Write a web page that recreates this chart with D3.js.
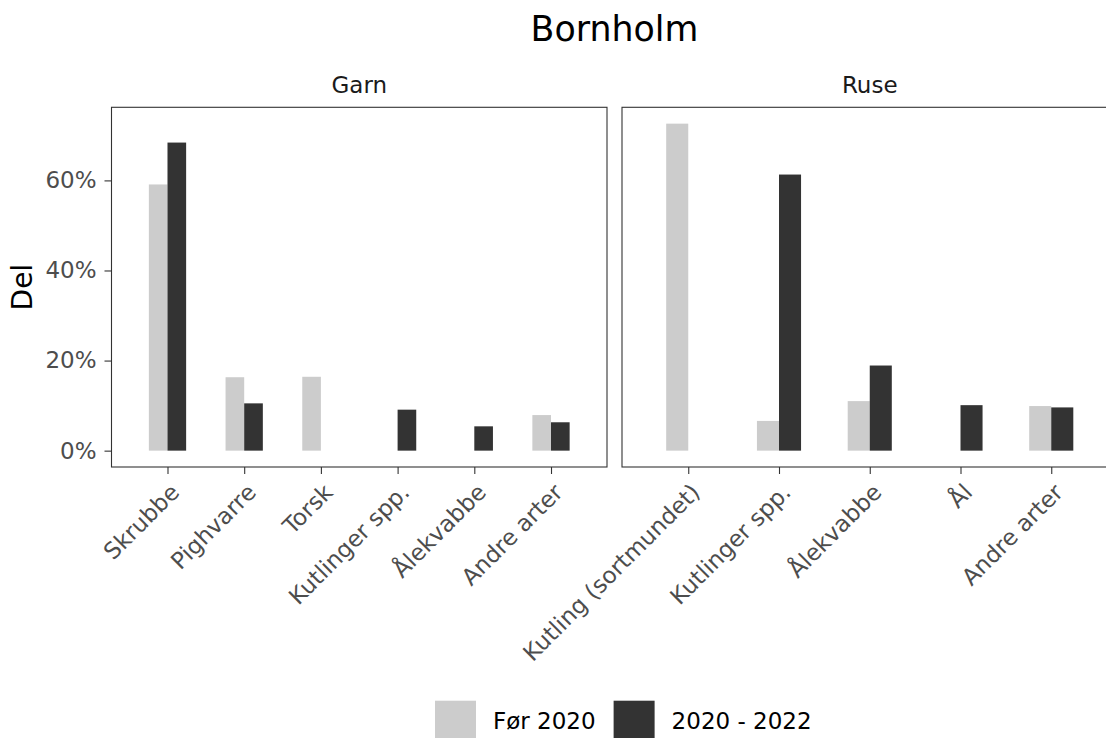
<!DOCTYPE html>
<html>
<head>
<meta charset="utf-8">
<script src="https://cdn.jsdelivr.net/npm/d3@7"></script>
<style>
  html, body { margin: 0; padding: 0; background: #fff; }
  svg { display: block; font-family: "DejaVu Sans", sans-serif; }
</style>
</head>
<body>
<svg id="chart" width="1106" height="738"></svg>
<script>
// ---------------- data ----------------
const chartTitle = "Bornholm";
const yAxisTitle = "Del";
const seriesLabels = ["Før 2020", "2020 - 2022"];
const seriesColors = ["#CCCCCC", "#333333"];
const panelNames = ["Garn", "Ruse"];

const garnCategories = ["Skrubbe", "Pighvarre", "Torsk", "Kutlinger spp.", "Ålekvabbe", "Andre arter"];
const garnFoer2020 = [59.1, 16.3, 16.4, null, null, 7.9];
const garn2020_2022 = [68.4, 10.5, null, 9.1, 5.4, 6.3];

const ruseCategories = ["Kutling (sortmundet)", "Kutlinger spp.", "Ålekvabbe", "Ål", "Andre arter"];
const ruseFoer2020 = [72.6, 6.6, 11.0, null, 9.9];
const ruse2020_2022 = [null, 61.3, 18.9, 10.1, 9.6];

const yTickValues = [0, 20, 40, 60];
const yTickLabels = ["0%", "20%", "40%", "60%"];

// ---------------- layout ----------------
const W = 1106, H = 738;
const panelTop = 107.3, panelBottom = 467;
const panelWidth = 495.5;
const panelLefts = [111.5, 622];
const textGrey = "#4D4D4D";
const dark = "#1A1A1A";
const borderCol = "#333333";
const axisFont = 23;

const svg = d3.select("#chart");

const panels = [
  { name: panelNames[0], cats: garnCategories, s1: garnFoer2020, s2: garn2020_2022 },
  { name: panelNames[1], cats: ruseCategories, s1: ruseFoer2020, s2: ruse2020_2022 }
];

const allVals = panels.flatMap(p => p.s1.concat(p.s2)).filter(v => v != null);
const maxVal = d3.max(allVals);
const expand = 0.05 * maxVal;
const y = d3.scaleLinear()
  .domain([-expand, maxVal + expand])
  .range([panelBottom, panelTop]);

// title
svg.append("text")
  .attr("x", (panelLefts[0] + panelLefts[1] + panelWidth) / 2)
  .attr("y", 41)
  .attr("text-anchor", "middle")
  .attr("font-size", 34.8)
  .attr("fill", "#000")
  .text(chartTitle);

// y axis title
svg.append("text")
  .attr("transform", `translate(32,${(panelTop + panelBottom) / 2}) rotate(-90)`)
  .attr("text-anchor", "middle")
  .attr("font-size", 28)
  .attr("fill", "#000")
  .text(yAxisTitle);

panels.forEach((p, i) => {
  const left = panelLefts[i];
  const x = d3.scalePoint()
    .domain(p.cats)
    .range([left, left + panelWidth])
    .padding(0.73);
  const step = x.step();
  const bw = step * 0.243;

  const g = svg.append("g");

  // strip label
  g.append("text")
    .attr("x", left + panelWidth / 2)
    .attr("y", 93)
    .attr("text-anchor", "middle")
    .attr("font-size", axisFont)
    .attr("fill", dark)
    .text(p.name);

  // bars
  const data = [];
  p.cats.forEach((c, k) => {
    if (p.s1[k] != null) data.push({ c, v: p.s1[k], s: 0 });
    if (p.s2[k] != null) data.push({ c, v: p.s2[k], s: 1 });
  });
  g.selectAll("rect.bar").data(data).enter().append("rect")
    .attr("class", "bar")
    .attr("x", d => d.s === 0 ? x(d.c) - bw : x(d.c))
    .attr("width", bw)
    .attr("y", d => y(d.v))
    .attr("height", d => y(0) - y(d.v))
    .attr("fill", d => seriesColors[d.s]);

  // panel border
  g.append("rect")
    .attr("x", left)
    .attr("y", panelTop)
    .attr("width", panelWidth)
    .attr("height", panelBottom - panelTop)
    .attr("fill", "none")
    .attr("stroke", borderCol)
    .attr("stroke-width", 1.1);

  // x axis
  const xAxis = d3.axisBottom(x).tickSize(7).tickSizeOuter(0).tickPadding(0);
  const xg = g.append("g")
    .attr("transform", `translate(0,${panelBottom})`)
    .call(xAxis);
  xg.select(".domain").remove();
  xg.selectAll(".tick line").attr("stroke", borderCol).attr("stroke-width", 1.1);
  xg.selectAll(".tick text")
    .attr("font-size", axisFont)
    .attr("font-family", "DejaVu Sans, sans-serif")
    .attr("fill", textGrey)
    .attr("text-anchor", "end")
    .attr("y", 0)
    .attr("dy", "0.72em")
    .attr("transform", "translate(1,15) rotate(-45)");

  // y axis (only first panel)
  if (i === 0) {
    const yAxis = d3.axisLeft(y)
      .tickValues(yTickValues)
      .tickFormat((d, k) => yTickLabels[k])
      .tickSize(7).tickPadding(8);
    const yg = g.append("g")
      .attr("transform", `translate(${left},0)`)
      .call(yAxis);
    yg.select(".domain").remove();
    yg.selectAll(".tick line").attr("stroke", borderCol).attr("stroke-width", 1.1);
    yg.selectAll(".tick text")
      .attr("font-size", axisFont)
      .attr("font-family", "DejaVu Sans, sans-serif")
      .attr("fill", textGrey);
  }
});

// legend
const key = 41, keyGap = 17, itemGap = 18;
const legendY = 700.7;
const legendStart = 435;
const lg = svg.append("g");
let cx = legendStart;
seriesLabels.forEach((lab, k) => {
  lg.append("rect")
    .attr("x", cx).attr("y", legendY)
    .attr("width", key).attr("height", key)
    .attr("fill", seriesColors[k]);
  const t = lg.append("text")
    .attr("x", cx + key + keyGap)
    .attr("y", legendY + key / 2)
    .attr("font-size", axisFont)
    .attr("fill", "#000")
    .attr("dominant-baseline", "central")
    .text(lab);
  cx += key + keyGap + t.node().getComputedTextLength() + itemGap;
});
</script>
</body>
</html>
